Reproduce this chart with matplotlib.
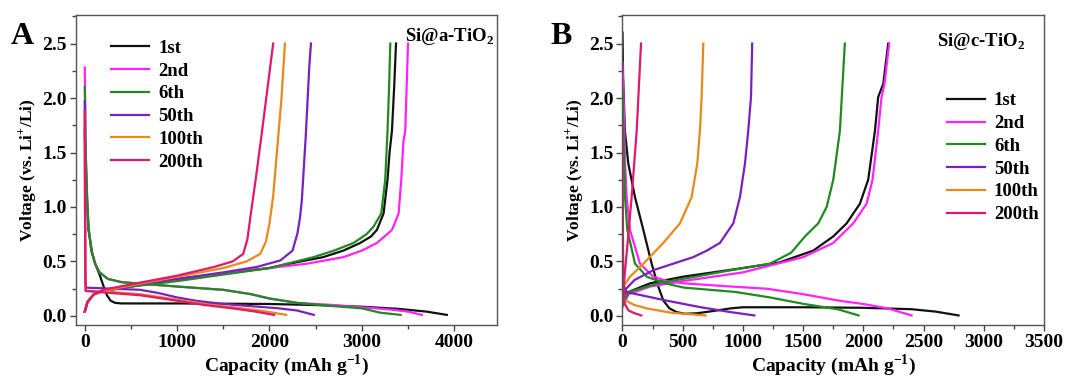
import matplotlib
matplotlib.use("Agg")
import matplotlib.pyplot as plt
from matplotlib.ticker import MultipleLocator

plt.rcParams['font.family'] = 'Liberation Serif'
plt.rcParams['font.weight'] = 'bold'
plt.rcParams['mathtext.fontset'] = 'custom'
plt.rcParams['mathtext.rm'] = 'Liberation Serif:bold'
plt.rcParams['mathtext.bf'] = 'Liberation Serif:bold'

labels = ['1st', '2nd', '6th', '50th', '100th', '200th']
colors = ['#111111', '#ff22ff', '#1f8a1f', '#7a1fc0', '#e8891a', '#e0186e']

# panel A: Si@a-TiO2  (capacity mAh/g, voltage V)
a_dis_cap = [
    [0, 20, 40, 80, 112, 160, 200, 240, 280, 330, 400, 1000, 2000, 2500, 3000, 3400, 3700, 3920],
    [0, 10, 25, 40, 70, 112, 160, 250, 400, 700, 1000, 1500, 1800, 2000, 2300, 2700, 3000, 3300, 3500, 3650],
    [0, 10, 25, 40, 70, 112, 160, 250, 400, 700, 1000, 1500, 1800, 2000, 2300, 2700, 3000, 3100, 3200, 3420],
    [0, 3, 6, 10, 300, 600, 800, 1000, 1200, 1500, 1800, 2100, 2300, 2480],
    [0, 3, 6, 10, 300, 600, 1000, 1300, 1600, 1900, 2180],
    [0, 3, 6, 10, 300, 600, 1000, 1300, 1600, 1850, 2050],
]
a_dis_v = [
    [1.7, 1.1, 0.79, 0.58, 0.48, 0.38, 0.28, 0.19, 0.14, 0.12, 0.115, 0.115, 0.11, 0.1, 0.085, 0.065, 0.04, 0.01],
    [2.28, 1.5, 1.1, 0.82, 0.6, 0.48, 0.4, 0.34, 0.31, 0.29, 0.27, 0.24, 0.2, 0.16, 0.12, 0.1, 0.08, 0.06, 0.04, 0.01],
    [2.1, 1.5, 1.1, 0.82, 0.6, 0.48, 0.4, 0.34, 0.31, 0.29, 0.27, 0.24, 0.2, 0.16, 0.12, 0.09, 0.07, 0.05, 0.03, 0.01],
    [1.97, 1.0, 0.4, 0.26, 0.25, 0.24, 0.21, 0.17, 0.14, 0.11, 0.09, 0.07, 0.05, 0.01],
    [1.8, 1.0, 0.4, 0.23, 0.22, 0.2, 0.15, 0.11, 0.08, 0.05, 0.01],
    [1.88, 1.0, 0.4, 0.23, 0.21, 0.19, 0.14, 0.1, 0.07, 0.04, 0.01],
]
a_chg_cap = [
    [0, 30, 100, 200, 500, 1000, 1500, 2000, 2333, 2582, 2800, 2983, 3100, 3163, 3235, 3278, 3300, 3326, 3350, 3370],
    [0, 30, 100, 200, 500, 1000, 1500, 2000, 2405, 2802, 3000, 3163, 3260, 3326, 3398, 3427, 3450, 3470, 3485, 3500],
    [0, 30, 100, 200, 500, 1000, 1500, 2000, 2477, 2700, 2910, 3050, 3127, 3210, 3253, 3278, 3295, 3308],
    [0, 30, 100, 200, 500, 1000, 1500, 1863, 2119, 2250, 2303, 2330, 2350, 2394, 2431, 2449],
    [0, 30, 100, 200, 500, 1000, 1500, 1750, 1900, 1960, 2000, 2040, 2080, 2130, 2167],
    [0, 30, 100, 200, 500, 1000, 1400, 1600, 1716, 1760, 1800, 1850, 1920, 1980, 2040],
]
a_chg_v = [
    [0.04, 0.13, 0.2, 0.23, 0.27, 0.34, 0.39, 0.44, 0.5, 0.54, 0.6, 0.67, 0.73, 0.79, 0.94, 1.25, 1.5, 1.7, 2.1, 2.5],
    [0.04, 0.13, 0.2, 0.23, 0.27, 0.33, 0.39, 0.44, 0.48, 0.54, 0.6, 0.67, 0.74, 0.79, 0.94, 1.25, 1.6, 1.7, 2.1, 2.5],
    [0.04, 0.13, 0.2, 0.23, 0.27, 0.32, 0.38, 0.44, 0.54, 0.6, 0.67, 0.75, 0.82, 0.94, 1.25, 1.7, 2.1, 2.5],
    [0.04, 0.13, 0.2, 0.23, 0.28, 0.34, 0.4, 0.45, 0.51, 0.6, 0.76, 0.9, 1.06, 1.67, 2.29, 2.5],
    [0.04, 0.13, 0.2, 0.23, 0.28, 0.36, 0.44, 0.5, 0.57, 0.68, 0.85, 1.1, 1.5, 2.0, 2.5],
    [0.04, 0.13, 0.2, 0.24, 0.29, 0.37, 0.45, 0.5, 0.57, 0.7, 0.95, 1.25, 1.7, 2.1, 2.5],
]

# panel B: Si@c-TiO2
b_dis_cap = [
    [0, 5, 20, 48, 104, 173, 242, 297, 340, 390, 450, 520, 620, 750, 900, 1000, 1500, 2000, 2400, 2600, 2790],
    [0, 10, 21, 35, 62, 145, 256, 370, 500, 900, 1200, 1500, 1800, 2000, 2200, 2400],
    [0, 10, 21, 40, 104, 202, 350, 512, 940, 1224, 1508, 1793, 1960],
    [0, 5, 30, 200, 370, 650, 900, 1095],
    [0, 8, 100, 200, 400, 690],
    [0, 5, 15, 50, 100, 156],
]
b_dis_v = [
    [2.6, 2.2, 1.7, 1.4, 1.09, 0.79, 0.48, 0.27, 0.14, 0.07, 0.035, 0.02, 0.025, 0.045, 0.07, 0.08, 0.08, 0.075, 0.062, 0.04, 0.005],
    [2.33, 1.95, 1.4, 1.09, 0.79, 0.48, 0.36, 0.32, 0.3, 0.27, 0.25, 0.2, 0.14, 0.11, 0.07, 0.005],
    [2.07, 1.6, 1.09, 0.79, 0.48, 0.36, 0.3, 0.26, 0.22, 0.17, 0.11, 0.06, 0.005],
    [1.0, 0.3, 0.22, 0.18, 0.14, 0.08, 0.035, 0.005],
    [0.5, 0.15, 0.1, 0.07, 0.03, 0.005],
    [1.8, 0.5, 0.12, 0.05, 0.025, 0.005],
]
b_chg_cap = [
    [0, 50, 230, 500, 940, 1300, 1584, 1750, 1861, 1971, 2040, 2096, 2123, 2165, 2206],
    [0, 50, 230, 500, 1000, 1500, 1750, 1916, 2027, 2076, 2123, 2150, 2175, 2214],
    [0, 50, 300, 600, 900, 1224, 1400, 1515, 1625, 1695, 1750, 1805, 1846],
    [0, 30, 100, 256, 588, 700, 809, 920, 975, 1017, 1044, 1067, 1077],
    [0, 7, 62, 173, 339, 477, 574, 621, 643, 657, 671],
    [0, 20, 40, 76, 118, 154],
]
b_chg_v = [
    [0.1, 0.22, 0.3, 0.36, 0.43, 0.49, 0.6, 0.73, 0.85, 1.03, 1.25, 1.7, 2.01, 2.13, 2.5],
    [0.08, 0.2, 0.27, 0.32, 0.4, 0.54, 0.67, 0.85, 1.03, 1.25, 1.7, 2.0, 2.13, 2.5],
    [0.1, 0.22, 0.3, 0.36, 0.42, 0.48, 0.58, 0.73, 0.85, 1.0, 1.25, 1.7, 2.5],
    [0.12, 0.25, 0.33, 0.42, 0.54, 0.6, 0.67, 0.85, 1.09, 1.4, 1.7, 2.01, 2.5],
    [0.15, 0.27, 0.36, 0.48, 0.67, 0.85, 1.09, 1.4, 1.7, 2.01, 2.5],
    [0.15, 0.4, 0.64, 1.09, 1.7, 2.5],
]

fig = plt.figure(figsize=(10.67, 3.83), dpi=100)
axA = fig.add_axes([0.0708, 0.1514, 0.3947, 0.8089])
axB = fig.add_axes([0.5834, 0.1514, 0.3951, 0.8089])


def draw(ax, dcap, dv, ccap, cv):
    for i, lab in enumerate(labels):
        ax.plot(dcap[i], dv[i], color=colors[i], lw=1.6, label=lab)
        ax.plot(ccap[i], cv[i], color=colors[i], lw=1.6)
    ax.set_ylim(-0.083, 2.76)
    ax.yaxis.set_major_locator(MultipleLocator(0.5))
    ax.yaxis.set_minor_locator(MultipleLocator(0.25))
    ax.tick_params(which='both', direction='out', labelsize=14, width=1, color='#444444', pad=2)
    ax.tick_params(which='major', length=4.5)
    ax.tick_params(which='minor', length=3)
    for s in ax.spines.values():
        s.set_color('#555555')
        s.set_linewidth(1)
    ax.set_xlabel('Capacity (mAh g$^{-1}$)', fontsize=14, fontweight='bold', labelpad=1)
    ax.set_ylabel('Voltage (vs. Li$^{+}$/Li)', fontsize=12.5, fontweight='bold', labelpad=3)


leg_font = {'family': 'Liberation Serif', 'weight': 'bold', 'size': 13.5}

draw(axA, a_dis_cap, a_dis_v, a_chg_cap, a_chg_v)
axA.set_xlim(-100, 4460)
axA.xaxis.set_major_locator(MultipleLocator(1000))
axA.xaxis.set_minor_locator(MultipleLocator(500))
axA.legend(loc='upper left', bbox_to_anchor=(0.045, 0.975), frameon=False, prop=leg_font,
           handlelength=2.0, handletextpad=0.5, labelspacing=0.3)
axA.text(0.993, 0.93, 'Si@a-TiO$_\\mathbf{2}$', transform=axA.transAxes,
         ha='right', va='center', fontsize=13.5, fontweight='bold')

draw(axB, b_dis_cap, b_dis_v, b_chg_cap, b_chg_v)
axB.set_xlim(0, 3500)
axB.xaxis.set_major_locator(MultipleLocator(500))
axB.xaxis.set_minor_locator(MultipleLocator(250))
axB.legend(loc='center left', bbox_to_anchor=(0.73, 0.54), frameon=False, prop=leg_font,
           handlelength=2.0, handletextpad=0.5, labelspacing=0.3)
axB.text(0.955, 0.915, 'Si@c-TiO$_\\mathbf{2}$', transform=axB.transAxes,
         ha='right', va='center', fontsize=13.5, fontweight='bold')

fig.text(0.010, 0.885, 'A', fontsize=23, fontweight='bold')
fig.text(0.516, 0.885, 'B', fontsize=23, fontweight='bold')

fig.savefig('out.png', dpi=100)
